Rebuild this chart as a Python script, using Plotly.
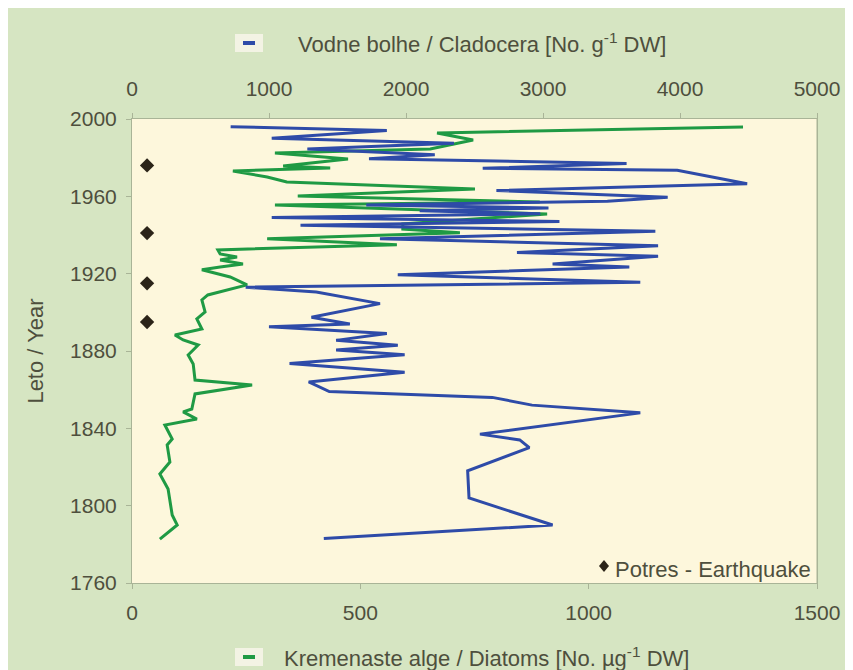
import plotly.graph_objects as go

# ---------------- data ----------------
clad_year = [1783, 1790, 1804, 1818, 1830, 1834, 1837, 1848, 1852, 1856,
             1859, 1864, 1869, 1873.5, 1878, 1880.5, 1883, 1885.5, 1889, 1892.5,
             1894, 1897.5, 1904.5, 1909, 1910.5, 1913, 1915.5, 1919.5, 1923.5, 1925,
             1929, 1931, 1934.5, 1938, 1942, 1945, 1947, 1949, 1951, 1952.5,
             1954, 1955.5, 1957.5, 1959.5, 1963, 1966.5, 1973.5, 1974.5, 1977, 1979.5,
             1981.5, 1984.5, 1987.5, 1990, 1994, 1996]
clad_vals = [1400, 3070, 2460, 2450, 2900, 2830, 2540, 3710, 2920, 2630,
             1440, 1290, 1990, 1150, 1990, 1490, 1940, 1490, 1860, 1000,
             1590, 1310, 1810, 1440, 1345, 830, 3710, 1940, 3630, 3070,
             3840, 2810, 3840, 1810, 3820, 1230, 3120, 1020, 2980, 2100,
             3040, 1710, 3470, 3910, 2660, 4490, 3980, 2560, 3610, 1730,
             2210, 1280, 2350, 1020, 1860, 720]

diat_year = [1782.7, 1790, 1795.2, 1808.6, 1816.4, 1822.6, 1831.4, 1834.5, 1841.7, 1844.8,
             1848.5, 1850, 1857.8, 1862.4, 1865, 1873.3, 1877.9, 1883.1, 1885.7, 1888.3,
             1891.4, 1896.6, 1900.2, 1906.4, 1909, 1914.2, 1918.3, 1922, 1923.5, 1925,
             1927.1, 1928.6, 1930.2, 1932.3, 1934.9, 1938, 1941.1, 1943.1, 1945.7, 1950.9,
             1955.5, 1957.1, 1960.2, 1963.8, 1967.4, 1970, 1973.1, 1974.7, 1975.7, 1979.3,
             1982.4, 1984.5, 1989.1, 1992.8, 1995.9]
diat_vals = [61, 99, 88, 79, 61, 83, 77, 88, 72, 142,
             112, 131, 138, 263, 138, 134, 123, 145, 112, 94,
             153, 142, 160, 153, 166, 252, 215, 153, 193, 243,
             193, 230, 193, 188, 580, 296, 718, 593, 593, 909,
             313, 893, 363, 751, 339, 296, 221, 434, 331, 473,
             313, 653, 747, 668, 1338]

quake_years = [1895, 1915, 1941, 1976]
quake_x = [33, 33, 33, 33]

clad_ticks = [0, 1000, 2000, 3000, 4000, 5000]
diat_ticks = [0, 500, 1000, 1500]
year_ticks = [1760, 1800, 1840, 1880, 1920, 1960, 2000]

clad_label = "Vodne bolhe / Cladocera [No. g<sup>-1</sup> DW]"
diat_label = "Kremenaste alge / Diatoms [No. \u00b5g<sup>-1</sup> DW]"
quake_label = "Potres - Earthquake"
year_label = "Leto / Year"

# ---------------- style ----------------
W, H = 853, 670
L, R, T, B = 124, 809, 111, 575
OUTER = "#d6e5c2"
PLOT = "#fdf7dc"
TXT = "#4e4f3d"
AXC = "#a9b497"
BLUE = "#2e4ba8"
GREEN = "#1f9a44"
FONT = "Liberation Sans, Arial, sans-serif"
FS = 22
TFS = 21


def px(x):
    return (x - L) / (R - L)


def py(y):
    return (B - y) / (B - T)


fig = go.Figure()
fig.add_trace(go.Scatter(x=clad_vals, y=clad_year, xaxis="x2", yaxis="y", mode="lines",
                         line=dict(color=BLUE, width=3), showlegend=False))
fig.add_trace(go.Scatter(x=diat_vals, y=diat_year, xaxis="x", yaxis="y", mode="lines",
                         line=dict(color=GREEN, width=3), showlegend=False))
fig.add_trace(go.Scatter(x=quake_x, y=quake_years, xaxis="x", yaxis="y", mode="markers",
                         marker=dict(symbol="diamond", size=11, color="#2b2418"), showlegend=False))

axis_common = dict(showgrid=False, zeroline=False, showline=True, linecolor=AXC, linewidth=1,
                   ticks="outside", ticklen=5, tickcolor=AXC,
                   tickfont=dict(family=FONT, size=TFS, color=TXT))

fig.update_layout(
    width=W, height=H,
    margin=dict(l=L, r=W - R, t=T, b=H - B, pad=0),
    paper_bgcolor=OUTER, plot_bgcolor=PLOT,
    font=dict(family=FONT, size=FS, color=TXT),
    xaxis=dict(range=[0, 1500], tickvals=diat_ticks, mirror=False, ticklabelstandoff=6, **axis_common),
    xaxis2=dict(range=[0, 5000], tickvals=clad_ticks, overlaying="x", side="top",
                ticklabelstandoff=9, **axis_common),
    yaxis=dict(range=[1760, 2000], tickvals=year_ticks, mirror=True, ticklabelstandoff=5,
               title=dict(text=year_label, font=dict(family=FONT, size=FS, color=TXT), standoff=20),
               **axis_common),
)

shapes = []
annotations = []
# right frame line
shapes.append(dict(type="line", xref="paper", yref="paper", x0=1, x1=1, y0=0, y1=1,
                   line=dict(color=AXC, width=1)))


def legend_swatch(cx, cy, color):
    shapes.append(dict(type="rect", xref="paper", yref="paper",
                       x0=px(cx - 14), x1=px(cx + 14), y0=py(cy + 9), y1=py(cy - 9),
                       fillcolor="#f3f3e4", line=dict(width=0)))
    shapes.append(dict(type="rect", xref="paper", yref="paper",
                       x0=px(cx - 6), x1=px(cx + 6), y0=py(cy + 2), y1=py(cy - 2),
                       fillcolor=color, line=dict(width=0)))


legend_swatch(241, 35, BLUE)
legend_swatch(241, 649, GREEN)
annotations.append(dict(text=clad_label, xref="paper", yref="paper", x=px(288), y=py(35),
                        xanchor="left", yanchor="middle", showarrow=False,
                        font=dict(family=FONT, size=FS, color=TXT)))
annotations.append(dict(text=diat_label, xref="paper", yref="paper", x=px(274), y=py(649),
                        xanchor="left", yanchor="middle", showarrow=False,
                        font=dict(family=FONT, size=FS, color=TXT)))

# earthquake legend
dx, dy = 5, 6
cx, cy = 596, 558
path = "M {} {} L {} {} L {} {} L {} {} Z".format(
    px(cx), py(cy - dy), px(cx + dx), py(cy), px(cx), py(cy + dy), px(cx - dx), py(cy))
shapes.append(dict(type="path", xref="paper", yref="paper", path=path,
                   fillcolor="#2b2418", line=dict(width=0)))
annotations.append(dict(text=quake_label, xref="paper", yref="paper", x=px(605), y=py(561),
                        xanchor="left", yanchor="middle", showarrow=False,
                        font=dict(family=FONT, size=FS, color=TXT)))

fig.update_layout(shapes=shapes, annotations=annotations)
fig.write_html("out.html")
